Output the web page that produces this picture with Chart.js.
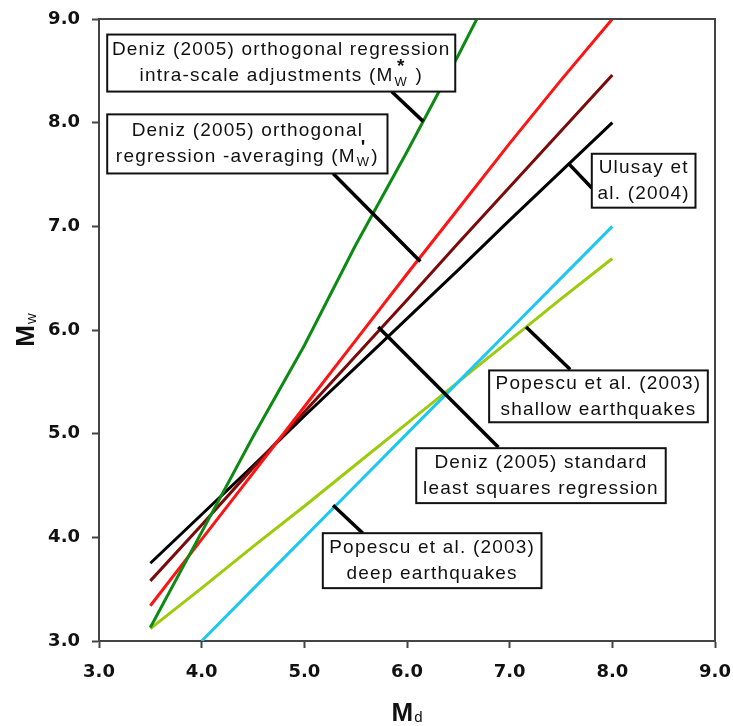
<!DOCTYPE html>
<html>
<head>
<meta charset="utf-8">
<script src="https://cdn.jsdelivr.net/npm/chart.js"></script>
<style>
  html, body { margin: 0; padding: 0; background: #fff; }
  #wrap { width: 733px; height: 726px; }
</style>
</head>
<body>
<div id="wrap"><canvas id="c" width="733" height="726"></canvas></div>
<script>
// Md values (x)
const mdValues = [3.5, 4.0, 4.5, 5.0, 5.5, 6.0, 6.5, 7.0, 7.5, 8.0];
const mdIntraScale = [3.5, 4.0, 4.5, 5.0, 5.5, 6.0, 6.5, 6.68];

// Mw values (y) per relation
const mwIntraScale = [3.13, 4.05, 4.97, 5.85, 6.82, 7.72, 8.65, 9.0];
const mwAveraging = [3.34, 3.98, 4.62, 5.26, 5.90, 6.54, 7.17, 7.80, 8.41, 9.0];
const mwLeastSquares = [3.58, 4.12, 4.67, 5.21, 5.75, 6.29, 6.84, 7.38, 7.92, 8.46];
const mwUlusay = [3.75, 4.22, 4.69, 5.17, 5.64, 6.11, 6.58, 7.06, 7.53, 8.0];
const mwDeep = [null, 3.0, 3.5, 4.0, 4.5, 5.0, 5.5, 6.0, 6.5, 7.0];
const mwShallow = [3.12, 3.51, 3.91, 4.30, 4.70, 5.10, 5.50, 5.90, 6.30, 6.69];

const tickValues = [3, 4, 5, 6, 7, 8, 9];

const pairs = (xs, ys) => xs.map((x, i) => ({ x: x, y: ys[i] }));

// callout boxes, in data units (Md, Mw)
const callouts = [
  { box: [3.08, 8.85, 6.47, 8.30], from: [5.85, 8.30], to: [6.16, 8.01],
    lines: ['Deniz (2005) orthogonal regression',
            [{ t: 'intra-scale adjustments (M' }, { sup: '*', sub: 'W' }, { t: ' )' }]] },
  { box: [3.08, 8.08, 5.81, 7.51], from: [5.28, 7.51], to: [6.13, 6.66],
    lines: ['Deniz (2005) orthogonal',
            [{ t: 'regression -averaging (M' }, { sup: "'", sub: 'W' }, { t: ')' }]] },
  { box: [7.80, 7.70, 8.81, 7.18], from: [7.80, 7.37], to: [7.57, 7.61],
    lines: ['Ulusay et', 'al. (2004)'] },
  { box: [6.80, 5.61, 8.93, 5.11], from: [7.59, 5.62], to: [7.16, 6.03],
    lines: ['Popescu et al. (2003)', 'shallow earthquakes'] },
  { box: [6.09, 4.86, 8.52, 4.33], from: [6.89, 4.87], to: [5.72, 6.03],
    lines: ['Deniz (2005) standard', 'least squares regression'] },
  { box: [5.18, 4.04, 7.31, 3.51], from: [5.57, 4.04], to: [5.28, 4.31],
    lines: ['Popescu et al. (2003)', 'deep earthquakes'] }
];

const textFont = '19px "Liberation Sans", Arial, sans-serif';
const supFont = 'bold 19px "Liberation Sans", Arial, sans-serif';
const subFont = '13px "Liberation Sans", Arial, sans-serif';

function richWidth(ctx, parts) {
  let w = 0;
  parts.forEach(p => {
    if (p.t !== undefined) { ctx.font = textFont; w += ctx.measureText(p.t).width; }
    else {
      ctx.font = supFont; const a = ctx.measureText(p.sup).width;
      ctx.font = subFont; const b = ctx.measureText(p.sub).width;
      w += Math.max(a, b) + 2;
    }
  });
  return w;
}

function drawLine(ctx, line, cx, cy) {
  ctx.textBaseline = 'middle';
  if (typeof line === 'string') {
    ctx.font = textFont;
    ctx.textAlign = 'center';
    ctx.fillText(line, cx, cy);
    return;
  }
  let x = cx - richWidth(ctx, line) / 2;
  ctx.textAlign = 'left';
  line.forEach(p => {
    if (p.t !== undefined) {
      ctx.font = textFont;
      ctx.fillText(p.t, x, cy);
      x += ctx.measureText(p.t).width;
    } else {
      ctx.font = supFont; const a = ctx.measureText(p.sup).width;
      ctx.font = subFont; const b = ctx.measureText(p.sub).width;
      const w = Math.max(a, b);
      ctx.font = supFont;
      ctx.fillText(p.sup, x + 1 + (w - a) / 2, cy - 9);
      ctx.font = subFont;
      ctx.fillText(p.sub, x + 1 + (w - b) / 2, cy + 6);
      x += w + 2;
    }
  });
}

const extras = {
  id: 'extras',
  afterDatasetsDraw(chart) {
    const ctx = chart.ctx;
    const xs = chart.scales.x, ys = chart.scales.y;
    const a = chart.chartArea;
    ctx.save();
    ctx.letterSpacing = '1.2px';

    // top and right frame
    ctx.strokeStyle = '#444';
    ctx.lineWidth = 2;
    ctx.beginPath();
    ctx.moveTo(a.left, a.top);
    ctx.lineTo(a.right, a.top);
    ctx.lineTo(a.right, a.bottom);
    ctx.stroke();

    callouts.forEach(c => {
      ctx.strokeStyle = '#000';
      ctx.lineWidth = 3.5;
      ctx.beginPath();
      ctx.moveTo(xs.getPixelForValue(c.from[0]), ys.getPixelForValue(c.from[1]));
      ctx.lineTo(xs.getPixelForValue(c.to[0]), ys.getPixelForValue(c.to[1]));
      ctx.stroke();

      const l = xs.getPixelForValue(c.box[0]), t = ys.getPixelForValue(c.box[1]);
      const r = xs.getPixelForValue(c.box[2]), b = ys.getPixelForValue(c.box[3]);
      ctx.fillStyle = '#fff';
      ctx.fillRect(l, t, r - l, b - t);
      ctx.strokeStyle = '#111';
      ctx.lineWidth = 2;
      ctx.strokeRect(l, t, r - l, b - t);

      ctx.fillStyle = '#111';
      const cx = (l + r) / 2, cy = (t + b) / 2;
      drawLine(ctx, c.lines[0], cx, cy - 13);
      drawLine(ctx, c.lines[1], cx, cy + 13);
    });
    ctx.letterSpacing = '0px';

    // axis titles
    const bigM = 'bold 26px "Liberation Sans", Arial, sans-serif';
    const small = '15px "Liberation Sans", Arial, sans-serif';
    ctx.fillStyle = '#111';
    ctx.textBaseline = 'alphabetic';
    ctx.textAlign = 'left';
    const midX = (a.left + a.right) / 2;
    ctx.font = bigM;
    const mW = ctx.measureText('M').width;
    ctx.font = small;
    const dW = ctx.measureText('d').width;
    let x0 = midX - (mW + dW + 1) / 2;
    ctx.font = bigM;
    ctx.fillText('M', x0, 721);
    ctx.font = small;
    ctx.fillText('d', x0 + mW + 1, 722);

    ctx.translate(34, (a.top + a.bottom) / 2);
    ctx.rotate(-Math.PI / 2);
    ctx.font = small;
    const wW = ctx.measureText('w').width;
    x0 = -(mW + wW + 1) / 2;
    ctx.font = bigM;
    ctx.fillText('M', x0, 0);
    ctx.font = small;
    ctx.fillText('w', x0 + mW + 1, 2);
    ctx.restore();
  }
};

const tickFont = { family: '"DejaVu Sans", sans-serif', size: 18, weight: 'bold' };

new Chart(document.getElementById('c'), {
  type: 'line',
  data: {
    datasets: [
      { data: pairs(mdIntraScale, mwIntraScale), borderColor: '#0d8a12' },
      { data: pairs(mdValues, mwAveraging), borderColor: '#ff1414' },
      { data: pairs(mdValues, mwLeastSquares), borderColor: '#7c0a0a' },
      { data: pairs(mdValues, mwUlusay), borderColor: '#000000' },
      { data: pairs(mdValues, mwDeep), borderColor: '#1ec6f2' },
      { data: pairs(mdValues, mwShallow), borderColor: '#9ccb0c' }
    ]
  },
  options: {
    responsive: false,
    animation: false,
    datasets: { line: { borderWidth: 3, pointRadius: 0, tension: 0, fill: false } },
    layout: { padding: { top: 19, right: 18, left: 0, bottom: 0 } },
    plugins: { legend: { display: false }, tooltip: { enabled: false } },
    scales: {
      x: {
        type: 'linear', min: 3, max: 9,
        afterFit: s => { s.height = 85; s.paddingLeft = 0; s.paddingRight = 0; },
        afterBuildTicks: s => { s.ticks = tickValues.map(v => ({ value: v })); },
        grid: { drawOnChartArea: false, drawTicks: true, tickLength: 7, tickColor: '#444', tickWidth: 2 },
        border: { color: '#444', width: 2 },
        ticks: { color: '#111', font: tickFont, padding: 14, maxRotation: 0,
                 callback: v => Number(v).toFixed(1) }
      },
      y: {
        type: 'linear', min: 3, max: 9,
        afterFit: s => { s.width = 99; s.paddingTop = 0; s.paddingBottom = 0; },
        afterBuildTicks: s => { s.ticks = tickValues.map(v => ({ value: v })); },
        grid: { drawOnChartArea: false, drawTicks: true, tickLength: 7, tickColor: '#444', tickWidth: 2 },
        border: { color: '#444', width: 2 },
        ticks: { color: '#111', font: tickFont, padding: 12,
                 callback: v => Number(v).toFixed(1) }
      }
    }
  },
  plugins: [extras]
});
</script>
</body>
</html>
